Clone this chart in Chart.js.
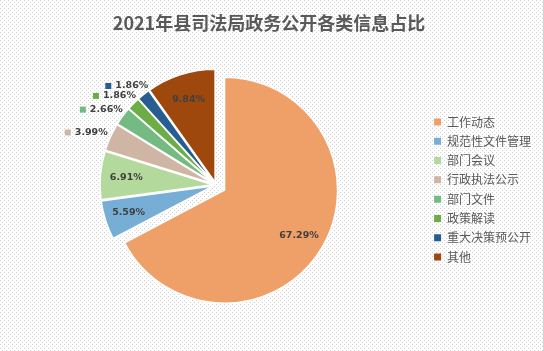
<!DOCTYPE html>
<html><head><meta charset="utf-8">
<script src="https://cdn.jsdelivr.net/npm/chart.js@4/dist/chart.umd.min.js"></script>
<style>
html,body{margin:0;padding:0;background:#fff;}
#wrap{position:relative;width:544px;height:351px;background-color:#fff;
background-image:url("data:image/svg+xml,%3Csvg xmlns='http://www.w3.org/2000/svg' width='4' height='4'%3E%3Crect width='1' height='1' fill='%23cfcfcf'/%3E%3Crect x='2' y='2' width='1' height='1' fill='%23cfcfcf'/%3E%3C/svg%3E");
box-shadow: inset -1px 0 0 #d4d4d4;}
canvas{display:block;}
</style></head><body>
<div id="wrap"><canvas id="c" width="544" height="351"></canvas></div>
<script>
// ---- data ----
const chartTitle = '2021年县司法局政务公开各类信息占比';
const categories = ['工作动态', '规范性文件管理', '部门会议', '行政执法公示', '部门文件', '政策解读', '重大决策预公开', '其他'];
const percentages = [67.29, 5.59, 6.91, 3.99, 2.66, 1.86, 1.86, 9.84];

// ---- styles ----
const sliceColors = ['#EFA068', '#77AED6', '#B3DA9C', '#CFB5A3', '#74BA83', '#6DAD45', '#265E92', '#9E480E'];
const EXPLODE_MAIN = 10, EXPLODE_REST = 3;
const INSIDE_MIN = 5; // slices >= this % get inside labels
const LABEL_FONT = 'bold 9.5px "DejaVu Sans"';
const LABEL_COLOR = '#404040';

const explodePlugin = {
  id: 'explode',
  afterUpdate(chart) {
    const meta = chart.getDatasetMeta(0);
    const ca = chart.chartArea;
    const cx = (ca.left + ca.right) / 2, cy = (ca.top + ca.bottom) / 2;
    meta.data.forEach((arc, i) => {
      const mid = (arc.startAngle + arc.endAngle) / 2;
      const d = i === 0 ? EXPLODE_MAIN : EXPLODE_REST;
      arc.x = cx + Math.cos(mid) * d;
      arc.y = cy + Math.sin(mid) * d;
    });
  }
};

const labelPlugin = {
  id: 'pctLabels',
  afterDatasetsDraw(chart) {
    const ctx = chart.ctx;
    const meta = chart.getDatasetMeta(0);
    ctx.save();
    ctx.font = LABEL_FONT;
    ctx.textBaseline = 'middle';
    meta.data.forEach((arc, i) => {
      const v = percentages[i];
      const text = v.toFixed(2) + '%';
      const {x, y, startAngle: s, endAngle: e, outerRadius: R} = arc;
      const mid = (s + e) / 2;
      const dx = Math.cos(mid), dy = Math.sin(mid);
      const tw = ctx.measureText(text).width;
      const h = 12;
      if (v >= INSIDE_MIN) {
        let px = x + dx * R * 0.77, py = y + dy * R * 0.77;
        if (e - s < Math.PI) {
          const m = 7;
          const normals = [[-Math.sin(s), Math.cos(s)], [Math.sin(e), -Math.cos(e)]];
          normals.forEach(([nx, ny]) => {
            let minD = Infinity;
            [[-1,-1],[1,-1],[-1,1],[1,1]].forEach(([sx, sy]) => {
              const qx = px + sx * tw / 2 - x, qy = py + sy * h / 2 - y;
              minD = Math.min(minD, qx * nx + qy * ny);
            });
            if (minD < m) { px += nx * (m - minD); py += ny * (m - minD); }
          });
        }
        ctx.fillStyle = LABEL_COLOR;
        ctx.textAlign = 'center';
        ctx.fillText(text, px, py);
      } else {
        const sq = 6, gap = 4;
        const W = sq + gap + tw;
        const ax = x + dx * (R + 5), ay = y + dy * (R + 5);
        const bx = ax + dx * W / 2, by = ay + dy * h / 2;
        const left = bx - W / 2;
        ctx.fillStyle = sliceColors[i];
        ctx.fillRect(left, by - sq / 2, sq, sq);
        ctx.fillStyle = LABEL_COLOR;
        ctx.textAlign = 'left';
        ctx.fillText(text, left + sq + gap, by);
      }
    });
    ctx.restore();
  }
};

const baseGen = (Chart.overrides.pie && Chart.overrides.pie.plugins && Chart.overrides.pie.plugins.legend &&
  Chart.overrides.pie.plugins.legend.labels && Chart.overrides.pie.plugins.legend.labels.generateLabels) ||
  Chart.overrides.doughnut.plugins.legend.labels.generateLabels;

new Chart(document.getElementById('c'), {
  type: 'pie',
  data: {
    labels: categories,
    datasets: [{
      data: percentages,
      backgroundColor: sliceColors,
      borderColor: '#ffffff',
      borderWidth: 1.5,
      hoverBorderWidth: 1.5,
      offset: 0,
      hoverOffset: 0
    }]
  },
  options: {
    responsive: false,
    animation: false,
    events: [],
    layout: { padding: { left: 5.2, right: 11.2, top: 0, bottom: 52.25 } },
    plugins: {
      title: {
        display: true,
        text: chartTitle,
        color: '#595959',
        font: { family: '"Noto Sans CJK SC"', size: 18, weight: 'bold', lineHeight: 1.2 },
        padding: { top: 12.2, bottom: 37.45 }
      },
      legend: {
        position: 'right',
        fullSize: false,
        maxWidth: 106,
        title: { display: true, text: '', font: { size: 9, lineHeight: 1 }, padding: 0 },
        labels: {
          boxWidth: 7,
          boxHeight: 7,
          padding: 7.3,
          color: '#595959',
          font: { family: '"Noto Sans CJK SC"', size: 12 },
          generateLabels: (chart) => baseGen(chart).map(l => Object.assign(l, { lineWidth: 0, strokeStyle: 'rgba(0,0,0,0)' }))
        }
      },
      tooltip: { enabled: false }
    }
  },
  plugins: [explodePlugin, labelPlugin]
});
</script>
</body></html>
